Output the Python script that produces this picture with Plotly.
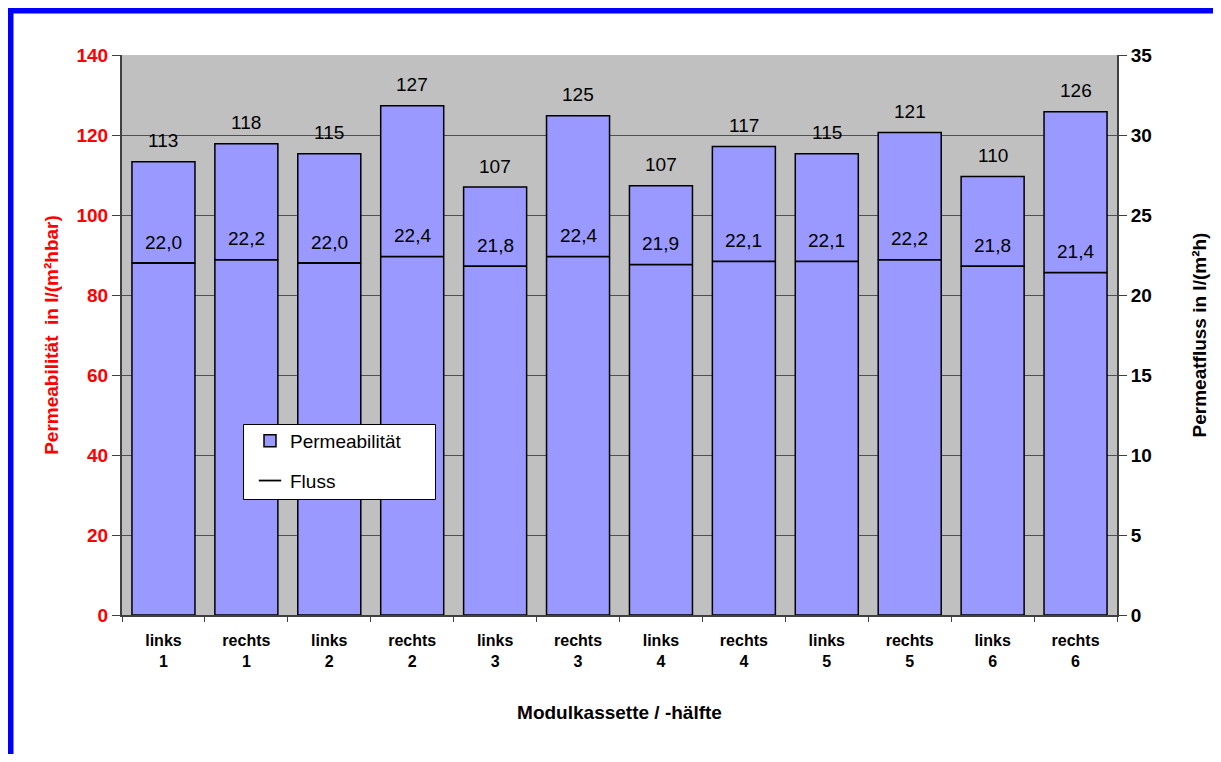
import plotly.graph_objects as go

categories = ["links<br>1", "rechts<br>1", "links<br>2", "rechts<br>2", "links<br>3", "rechts<br>3",
              "links<br>4", "rechts<br>4", "links<br>5", "rechts<br>5", "links<br>6", "rechts<br>6"]
permeabilitaet = [113.3, 117.8, 115.3, 127.3, 107.0, 124.8, 107.3, 117.1, 115.3, 120.6, 109.6, 125.8]
fluss = [22.0, 22.2, 22.0, 22.4, 21.8, 22.4, 21.9, 22.1, 22.1, 22.2, 21.8, 21.4]
perm_labels = [f"{int(v + 0.5)}" for v in permeabilitaet]
fluss_labels = [f"{v:.1f}".replace(".", ",") for v in fluss]

FONT = "Liberation Sans, Arial, sans-serif"
W, H = 1213, 746
ML, MT = 114, 47
PW, PH = 995, 560
MR, MB = W - ML - PW, H - MT - PH


def px_x(px):
    return (px - ML) / PW


def px_y(py):
    return (MT + PH - py) / PH


fig = go.Figure()
fig.add_trace(go.Bar(
    x=categories, y=permeabilitaet, name="Permeabilität", legendgroup="p",
    marker=dict(color="#9999FF", line=dict(color="black", width=1.5)),
))
fig.add_trace(go.Scatter(
    x=categories, y=fluss, name="Fluss", legendgroup="f", yaxis="y2", mode="markers",
    marker=dict(symbol="line-ew", size=45.5, color="black", line=dict(color="black", width=1.8)),
))

annotations = []
for c, v, t in zip(categories, permeabilitaet, perm_labels):
    annotations.append(dict(x=c, y=v, xref="x", yref="y", text=t, showarrow=False,
                            yanchor="middle", yshift=21, font=dict(family=FONT, size=19, color="black")))
for c, v, t in zip(categories, fluss, fluss_labels):
    annotations.append(dict(x=c, y=v, xref="x", yref="y2", text=t, showarrow=False,
                            yanchor="middle", yshift=21, font=dict(family=FONT, size=19, color="black")))

shapes = [
    dict(type="rect", xref="paper", yref="paper", x0=px_x(2.5), x1=px_x(1400), y0=px_y(1200), y1=px_y(2.5),
         line=dict(color="#0000FF", width=6), fillcolor="rgba(0,0,0,0)", layer="above"),
    dict(type="rect", xref="paper", yref="paper", x0=px_x(235.5), x1=px_x(427.5), y0=px_y(491.5), y1=px_y(416.5),
         line=dict(color="black", width=1), fillcolor="white", layer="above"),
]

fig.update_layout(
    width=W, height=H,
    margin=dict(l=ML, r=MR, t=MT, b=MB),
    paper_bgcolor="white", plot_bgcolor="#C0C0C0",
    font=dict(family=FONT, size=19, color="black"),
    bargap=0.24,
    showlegend=True,
    legend=dict(x=px_x(242), y=px_y(414), xanchor="left", yanchor="top",
                bgcolor="rgba(0,0,0,0)", borderwidth=0, tracegroupgap=12,
                font=dict(family=FONT, size=19, color="black")),
    xaxis=dict(
        type="category", range=[-0.5, 11.5], tickson="boundaries", ticks="outside", ticklen=5,
        tickcolor="#404040", showline=True, linecolor="#404040", linewidth=1.5,
        ticklabelstandoff=10,
        tickfont=dict(family=FONT, size=16, color="black", weight="bold"),
        title=dict(text="Modulkassette / -hälfte", standoff=37,
                   font=dict(family=FONT, size=19, color="black", weight="bold")),
        showgrid=False, fixedrange=True,
    ),
    yaxis=dict(
        range=[0, 140], dtick=20, tick0=0, ticks="outside", ticklen=8, tickcolor="#404040",
        showline=True, linecolor="#404040", linewidth=2,
        showgrid=True, gridcolor="#505050", gridwidth=1, zeroline=False,
        tickfont=dict(family=FONT, size=19, color="red", weight="bold"),
        title=dict(text="Permeabilität  in l/(m²hbar)", standoff=13,
                   font=dict(family=FONT, size=19, color="red", weight="bold")),
    ),
    yaxis2=dict(
        range=[0, 35], dtick=5, tick0=0, overlaying="y", side="right", ticks="outside", ticklen=8,
        tickcolor="#404040", showline=True, linecolor="#404040", linewidth=2,
        showgrid=False, zeroline=False,
        tickfont=dict(family=FONT, size=19, color="black", weight="bold"),
        title=dict(text="Permeatfluss in l/(m²h)", standoff=41,
                   font=dict(family=FONT, size=19, color="black", weight="bold")),
    ),
    annotations=annotations,
    shapes=shapes,
)

fig.write_html("out.html")
